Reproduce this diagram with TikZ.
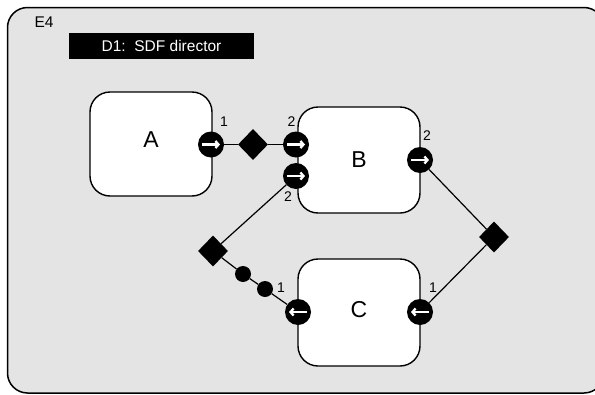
\documentclass[tikz,border=0pt]{standalone}
\usepackage{fontspec}
\setmainfont{Liberation Sans}
\usetikzlibrary{shapes.geometric,arrows.meta}
\definecolor{bg}{HTML}{E4E4E4}
\tikzset{
 actor/.style={draw=black, line width=1.4pt, fill=white, rounded corners=20pt, inner sep=0pt, font=\fontsize{23}{23}\selectfont},
 port/.style={circle, fill=black, minimum size=26pt, inner sep=0pt},
 rel/.style={diamond, fill=black, minimum width=30pt, minimum height=31pt, inner sep=0pt},
 vtx/.style={circle, fill=black, minimum size=16pt, inner sep=0pt},
 link/.style={draw=black, line width=1.2pt},
 parr/.style={draw=white, line width=2.4pt, -{Straight Barb[length=3pt,width=7pt]}},
 num/.style={font=\fontsize{14}{14}\selectfont, inner sep=0pt},
}
\begin{document}
\begin{tikzpicture}[x=1pt,y=-1pt]
\useasboundingbox (0,0) rectangle (595,394);
\begin{scope}
\clip (0,0) rectangle (595,394);
\draw[line width=1.5pt, fill=bg, rounded corners=20pt] (7.5,7.5) rectangle (604,393);
\end{scope}
\node[font=\fontsize{15.5}{15.5}\selectfont, inner sep=0pt] (E4) at (44,22.5) {E4};
\node[fill=black, text=white, minimum width=185pt, minimum height=26pt, inner sep=0pt, font=\fontsize{15.5}{15.5}\selectfont] (dir) at (161.5,46) {D1:\ \ SDF director};
% actors
\node[actor, minimum width=122pt, minimum height=104pt, text depth=8pt] (A) at (151,144) {A};
\node[actor, minimum width=122pt, minimum height=106pt] (B) at (359,160) {B};
\node[actor, minimum width=122pt, minimum height=107pt, text depth=6pt] (C) at (359,312.5) {C};
% ports
\node[port] (Aout) at (211,144.5) {};
\node[port] (Bin1) at (296,144.5) {};
\node[port] (Bin2) at (296,176) {};
\node[port] (Bout) at (420,160) {};
\node[port] (Cin) at (420,312) {};
\node[port] (Cout) at (298,312) {};
\foreach \p in {Aout,Bin1,Bin2,Bout}{
  \draw[parr] ([xshift=-9pt]\p.center) -- ([xshift=9pt]\p.center);
}
\foreach \p in {Cin,Cout}{
  \draw[parr] ([xshift=9pt]\p.center) -- ([xshift=-9pt]\p.center);
}
% relations
\node[rel] (D1) at (253,144.5) {};
\node[rel] (D2) at (494,237) {};
\node[rel] (D3) at (213,251) {};
\node[vtx] (v1) at (243,274) {};
\node[vtx] (v2) at (265,289) {};
% links
\draw[link] (Aout) -- (D1);
\draw[link] (D1) -- (Bin1);
\draw[link] (D3) -- (Bin2);
\draw[link] (D3) -- (v1);
\draw[link] (v1) -- (v2);
\draw[link] (v2) -- (Cout);
\draw[link] (Bout) -- (D2);
\draw[link] (D2) -- (Cin);
% port numbers
\node[num] (nA) at (224,121.5) {1};
\node[num] (nB1) at (291.5,122) {2};
\node[num] (nB2) at (288,196.5) {2};
\node[num] (nBo) at (427,136) {2};
\node[num] (nCo) at (281,288) {1};
\node[num] (nCi) at (433,288) {1};
\end{tikzpicture}
\end{document}
